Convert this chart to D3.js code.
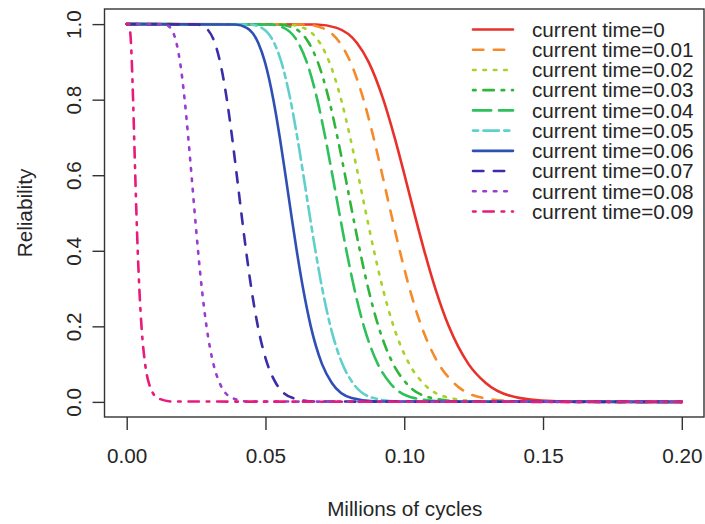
<!DOCTYPE html>
<html>
<head>
<meta charset="utf-8">
<script src="https://cdn.jsdelivr.net/npm/d3@7"></script>
<style>
  html, body { margin: 0; padding: 0; background: #fff; }
  svg { display: block; }
  text { font-family: "Liberation Sans", Arial, Helvetica, sans-serif; fill: #262626; }
</style>
</head>
<body>
<svg id="chart" width="705" height="524"></svg>
<script>
// Reliability levels at which each curve's cycle count is recorded
const reliabilityLevels = [1, 0.999, 0.99, 0.95, 0.9, 0.8, 0.7, 0.6, 0.5, 0.4, 0.3, 0.2, 0.1, 0.05, 0.01, 0.001, 0];

// Cycles (millions) reaching each reliability level, one array per current time
const cyclesT000 = [0, 0.06826, 0.07568, 0.08297, 0.08714, 0.09247, 0.09652, 0.10012, 0.1036, 0.10721, 0.11120, 0.11606, 0.12317, 0.12937, 0.14182, 0.15723, 0.2];
const cyclesT001 = [0, 0.06371, 0.07035, 0.07687, 0.08059, 0.08534, 0.08893, 0.09212, 0.0952, 0.09839, 0.10191, 0.10621, 0.11246, 0.11790, 0.12882, 0.14226, 0.2];
const cyclesT002 = [0, 0.05768, 0.06370, 0.06961, 0.07297, 0.07727, 0.08052, 0.08341, 0.0862, 0.08909, 0.09228, 0.09616, 0.10183, 0.10675, 0.11664, 0.12881, 0.2];
const cyclesT003 = [0, 0.05441, 0.06008, 0.06565, 0.06882, 0.07288, 0.07594, 0.07867, 0.0813, 0.08402, 0.08703, 0.09070, 0.09604, 0.10068, 0.11001, 0.12149, 0.2];
const cyclesT004 = [0, 0.05126, 0.05661, 0.06185, 0.06484, 0.06866, 0.07155, 0.07412, 0.0766, 0.07917, 0.08200, 0.08545, 0.09049, 0.09486, 0.10365, 0.11446, 0.2];
const cyclesT005 = [0, 0.04403, 0.04863, 0.05313, 0.05570, 0.05898, 0.06146, 0.06367, 0.0658, 0.06800, 0.07044, 0.07341, 0.07773, 0.08149, 0.08903, 0.09833, 0.2];
const cyclesT006 = [0, 0.03901, 0.04325, 0.04741, 0.04979, 0.05284, 0.05516, 0.05721, 0.0592, 0.06126, 0.06355, 0.06632, 0.07038, 0.07392, 0.08104, 0.08985, 0.2];
const cyclesT007 = [0, 0.02519, 0.02846, 0.03174, 0.03364, 0.03610, 0.03798, 0.03966, 0.0413, 0.04301, 0.04491, 0.04725, 0.05070, 0.05373, 0.05992, 0.06771, 0.2];
const cyclesT008 = [0, 0.01362, 0.01575, 0.01792, 0.01921, 0.02088, 0.02218, 0.02335, 0.0245, 0.02571, 0.02707, 0.02875, 0.03125, 0.03349, 0.03811, 0.04405, 0.2];
const cyclesT009 = [0, 0.00075, 0.00109, 0.00154, 0.00184, 0.00230, 0.00269, 0.00308, 0.0035, 0.00397, 0.00455, 0.00533, 0.00665, 0.00797, 0.01120, 0.01645, 0.2];

const seriesCycles = [cyclesT000, cyclesT001, cyclesT002, cyclesT003, cyclesT004,
                      cyclesT005, cyclesT006, cyclesT007, cyclesT008, cyclesT009];
const currentTimes = ["0", "0.01", "0.02", "0.03", "0.04", "0.05", "0.06", "0.07", "0.08", "0.09"];

// Axis ticks
const xTicks = [0, 0.05, 0.10, 0.15, 0.20];
const yTicks = [0, 0.2, 0.4, 0.6, 0.8, 1.0];

// Line styles per series
const lineColors = ["#e8312b", "#f58a2a", "#a8d12a", "#2fb53a", "#2ec05a", "#5fd0cc",
                    "#2f4fb5", "#3a2ea8", "#9a3ccf", "#e81a7c"];
const u = 2.6; // dash unit
const lineDashes = [null, `${4*u} ${4*u}`, `${u} ${3*u}`, `${u} ${3*u} ${4*u} ${3*u}`,
                    `${7*u} ${3*u}`, `${2*u} ${2*u} ${6*u} ${2*u}`, null, `${4*u} ${4*u}`,
                    `${u} ${3*u}`, `${u} ${3*u} ${4*u} ${3*u}`];

const svg = d3.select("#chart");
const plot = { left: 104.5, right: 704, top: 9, bottom: 417 };

// R-style 4% padding around the data range
const x = d3.scaleLinear().domain([-0.008, 0.208]).range([plot.left, plot.right]);
const y = d3.scaleLinear().domain([-0.04, 1.04]).range([plot.bottom, plot.top]);

const fontSize = 20.7;
const ink = "#333";

// Curves
const line = d3.line()
  .x(d => x(d[0]))
  .y(d => y(d[1]))
  .curve(d3.curveMonotoneX);

const curves = svg.append("g");
seriesCycles.forEach((cycles, i) => {
  const pts = cycles.map((c, k) => [c, reliabilityLevels[k]]);
  curves.append("path")
    .attr("d", line(pts))
    .attr("fill", "none")
    .attr("stroke", lineColors[i])
    .attr("stroke-width", 2.6)
    .attr("stroke-linecap", "round")
    .attr("stroke-linejoin", "round")
    .attr("stroke-dasharray", lineDashes[i]);
});

// Plot box
svg.append("rect")
  .attr("x", plot.left).attr("y", plot.top)
  .attr("width", plot.right - plot.left).attr("height", plot.bottom - plot.top)
  .attr("fill", "none").attr("stroke", ink).attr("stroke-width", 1.4);

// X axis
const xAxis = svg.append("g")
  .attr("transform", `translate(0,${plot.bottom})`)
  .call(d3.axisBottom(x).tickValues(xTicks).tickSize(13).tickFormat(d3.format(".2f")));
xAxis.select(".domain").remove();
xAxis.selectAll(".tick line").attr("stroke", ink).attr("stroke-width", 1.4);
xAxis.selectAll(".tick text")
  .attr("y", 46).attr("dy", null)
  .attr("fill", "#262626")
  .style("font-size", fontSize + "px")
  .style("font-family", "'Liberation Sans', Arial, sans-serif");

// Y axis with labels parallel to the axis
const yAxis = svg.append("g")
  .attr("transform", `translate(${plot.left},0)`)
  .call(d3.axisLeft(y).tickValues(yTicks).tickSize(12).tickFormat(d3.format(".1f")));
yAxis.select(".domain").remove();
yAxis.selectAll(".tick line").attr("stroke", ink).attr("stroke-width", 1.4);
yAxis.selectAll(".tick text")
  .attr("x", 0).attr("y", -24).attr("dy", null)
  .attr("text-anchor", "middle")
  .attr("transform", "rotate(-90)")
  .attr("fill", "#262626")
  .style("font-size", fontSize + "px")
  .style("font-family", "'Liberation Sans', Arial, sans-serif");

// Axis titles
svg.append("text")
  .attr("x", (plot.left + plot.right) / 2 + 0.5)
  .attr("y", 516)
  .attr("text-anchor", "middle")
  .style("font-size", fontSize + "px")
  .text("Millions of cycles");

svg.append("text")
  .attr("transform", `translate(31.5,${(plot.top + plot.bottom) / 2}) rotate(-90)`)
  .attr("text-anchor", "middle")
  .style("font-size", fontSize + "px")
  .text("Reliability");

// Legend
const legend = svg.append("g");
const rowY = d3.scaleLinear().domain([0, 9]).range([29.5, 211.5]);
currentTimes.forEach((t, i) => {
  const yy = rowY(i);
  legend.append("line")
    .attr("x1", 473).attr("x2", 513)
    .attr("y1", yy).attr("y2", yy)
    .attr("stroke", lineColors[i])
    .attr("stroke-width", 2.6)
    .attr("stroke-linecap", "round")
    .attr("stroke-dasharray", lineDashes[i]);
  legend.append("text")
    .attr("x", 532)
    .attr("y", yy + 7.3)
    .style("font-size", fontSize + "px")
    .text(`current time=${t}`);
});
</script>
</body>
</html>
